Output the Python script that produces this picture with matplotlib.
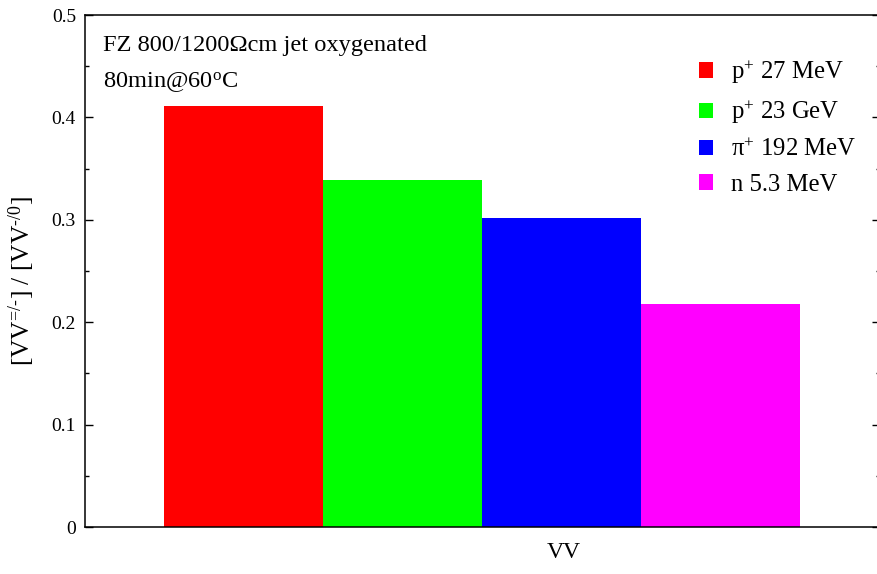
import matplotlib
matplotlib.use("Agg")
import matplotlib.pyplot as plt
from matplotlib.patches import Patch
from matplotlib.ticker import FixedLocator, MultipleLocator

plt.rcParams['font.family'] = ['Liberation Serif', 'DejaVu Serif']
plt.rcParams['mathtext.fontset'] = 'custom'
plt.rcParams['mathtext.rm'] = 'Liberation Serif'
plt.rcParams['mathtext.it'] = 'Liberation Serif:italic'
plt.rcParams['mathtext.bf'] = 'Liberation Serif:bold'

# Ratio of divacancy charge states after annealing, per irradiation type
particles = ['p$^{+}$ 27 MeV', 'p$^{+}$ 23 GeV', 'π$^{+}$ 192 MeV', 'n 5.3 MeV']
ratios = [0.411, 0.339, 0.302, 0.218]
colors = ['#ff0000', '#00ff00', '#0000ff', '#ff00ff']
positions = [1, 2, 3, 4]

yticks = [0, 0.1, 0.2, 0.3, 0.4, 0.5]
ytick_labels = ['0', '0.1', '0.2', '0.3', '0.4', '0.5']

W, H = 877, 574
fig = plt.figure(figsize=(W / 100, H / 100), dpi=100)
ax = fig.add_axes([85 / W, 1 - 527 / H, 794.5 / W, 512 / H])

ax.bar(positions, ratios, width=1.0, color=colors, edgecolor='none')

ax.set_xlim(0, 5)
ax.set_ylim(0, 0.5)
ax.set_xticks([])
ax.yaxis.set_major_locator(FixedLocator(yticks))
ax.set_yticklabels(ytick_labels)
ax.yaxis.set_minor_locator(MultipleLocator(0.05))
ax.tick_params(axis='y', which='both', direction='in', left=True, right=True,
               labelsize=14, pad=6.5)
ax.tick_params(axis='y', which='major', length=5.8, width=1.0)
ax.tick_params(axis='y', which='minor', length=2.9, width=1.0)
for s in ax.spines.values():
    s.set_linewidth(1.1)

ax.set_xlabel('VV', fontsize=17)
ax.xaxis.set_label_coords(0.603, -0.030)
ax.set_ylabel(r'[VV$^{\text{=/-}}$] / [VV$^{\text{-/0}}$]', fontsize=18.4)
ax.yaxis.set_label_coords(-0.060, 0.480)

ax.text(0.0227, 0.9297, 'FZ 800/1200Ωcm jet oxygenated', transform=ax.transAxes,
        fontsize=17.6, va='baseline', ha='left')
ax.text(0.0227, 0.857, '80min@60$^{\\mathrm{o}}$C', transform=ax.transAxes,
        fontsize=17.6, va='baseline', ha='left')

handles = [Patch(facecolor=c, edgecolor='none') for c in colors]
ax.legend(handles, particles, loc='upper left',
          bbox_to_anchor=(699 / W, 1 - 58 / H), bbox_transform=fig.transFigure,
          frameon=False, fontsize=17.8, borderpad=0, borderaxespad=0,
          handlelength=0.58, handleheight=0.58, handletextpad=0.7,
          labelspacing=0.5)

fig.savefig('out.png', dpi=100)
